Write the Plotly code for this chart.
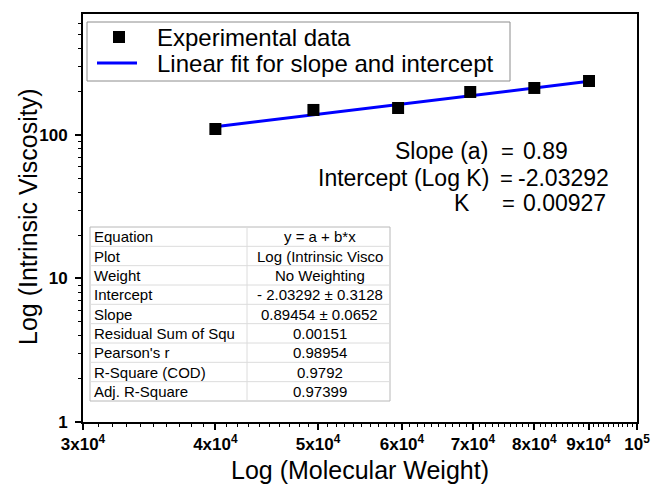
import plotly.graph_objects as go

# ---------------- data ----------------
mol_weight = [40000, 49500, 59500, 69600, 80000, 90100]
intrinsic_visc = [110.1, 149.4, 154.2, 199.4, 212.6, 237.8]

fit_x = [39800, 90100]
fit_y = [113.7, 236.6]

x_tickvals = [30000, 40000, 50000, 60000, 70000, 80000, 90000, 100000]
x_ticktext = ["3x10<sup>4</sup>", "4x10<sup>4</sup>", "5x10<sup>4</sup>", "6x10<sup>4</sup>",
              "7x10<sup>4</sup>", "8x10<sup>4</sup>", "9x10<sup>4</sup>", "10<sup>5</sup>"]
x_minor = [v for v in range(31000, 100000, 1000) if v % 10000 != 0]

y_tickvals = [1, 10, 100]
y_ticktext = ["1", "10", "100"]
y_minor = [2, 3, 4, 5, 6, 7, 8, 9, 20, 30, 40, 50, 60, 70, 80, 90, 200, 300, 400, 500, 600]

table_labels = ["Equation", "Plot", "Weight", "Intercept", "Slope", "Residual Sum of Squ",
                "Pearson's r", "R-Square (COD)", "Adj. R-Square"]
table_values = ["y = a + b*x", "Log (Intrinsic Visco", "No Weighting", "- 2.03292 ± 0.3128",
                "0.89454 ± 0.0652", "0.00151", "0.98954", "0.9792", "0.97399"]

fit_labels = ["Slope (a)", "Intercept (Log K)", "K"]
fit_results = ["0.89", "-2.03292", "0.00927"]

legend_names = ["Experimental data", "Linear fit for slope and intercept"]

x_title = "Log (Molecular Weight)"
y_title = "Log (Intrinsic Viscosity)"

# ---------------- layout helpers ----------------
W, H = 651, 489
L, R, T, B = 83, 14, 14, 67
PW, PH = W - L - R, H - T - B
FONT = "Liberation Sans, Arial, sans-serif"


def px(x):
    return (x - L) / PW


def py(y):
    return (H - B - y) / PH


fig = go.Figure()

fig.add_trace(go.Scatter(
    x=fit_x, y=fit_y, mode="lines",
    line=dict(color="#0000ff", width=3),
    name=legend_names[1], showlegend=False))

fig.add_trace(go.Scatter(
    x=mol_weight, y=intrinsic_visc, mode="markers",
    marker=dict(symbol="square", size=12, color="black"),
    name=legend_names[0], showlegend=False))

annotations = []
shapes = []

# ---------------- statistics table ----------------
tab_l, tab_r, tab_div = 90, 390, 247
tab_t, tab_b = 227, 401
n_rows = len(table_labels)
row_h = (tab_b - tab_t) / n_rows
shapes.append(dict(type="rect", xref="paper", yref="paper",
                   x0=px(tab_l), x1=px(tab_r), y0=py(tab_b), y1=py(tab_t),
                   line=dict(color="#b8b8b8", width=1), fillcolor="white", layer="above"))
for i in range(1, n_rows):
    yy = tab_t + i * row_h
    shapes.append(dict(type="line", xref="paper", yref="paper",
                       x0=px(tab_l), x1=px(tab_r), y0=py(yy), y1=py(yy),
                       line=dict(color="#dcdcdc", width=1), layer="above"))
shapes.append(dict(type="line", xref="paper", yref="paper",
                   x0=px(tab_div), x1=px(tab_div), y0=py(tab_b), y1=py(tab_t),
                   line=dict(color="#dcdcdc", width=1), layer="above"))
for i, (lab, val) in enumerate(zip(table_labels, table_values)):
    yc = tab_t + (i + 0.5) * row_h
    annotations.append(dict(xref="paper", yref="paper", x=px(tab_l + 2), y=py(yc),
                            text=lab, showarrow=False, xanchor="left", yanchor="middle",
                            font=dict(family=FONT, size=15, color="black")))
    annotations.append(dict(xref="paper", yref="paper", x=px((tab_div + tab_r) / 2 + 1), y=py(yc),
                            text=val, showarrow=False, xanchor="center", yanchor="middle",
                            font=dict(family=FONT, size=15, color="black")))

# ---------------- manual legend ----------------
shapes.append(dict(type="rect", xref="paper", yref="paper",
                   x0=px(87), x1=px(510), y0=py(81), y1=py(22),
                   line=dict(color="#8c8c8c", width=1), fillcolor="white", layer="above"))
shapes.append(dict(type="rect", xref="paper", yref="paper",
                   x0=px(113), x1=px(125), y0=py(43), y1=py(31),
                   line=dict(width=0), fillcolor="black", layer="above"))
shapes.append(dict(type="line", xref="paper", yref="paper",
                   x0=px(97), x1=px(137), y0=py(63), y1=py(63),
                   line=dict(color="#0000ff", width=3), layer="above"))
for name, yy in zip(legend_names, [37, 63]):
    annotations.append(dict(xref="paper", yref="paper", x=px(155), y=py(yy),
                            text=name, showarrow=False, xanchor="left", yanchor="middle",
                            font=dict(family=FONT, size=24, color="black")))

# ---------------- fit result text ----------------
label_right = [490, 491, 472]
eq_center = [507, 506, 508]
value_left = [521, 516, 521]
row_y = [151, 178, 203]
for lab, val, lx, ex, vx, yy in zip(fit_labels, fit_results, label_right, eq_center, value_left, row_y):
    annotations.append(dict(xref="paper", yref="paper", x=px(lx), y=py(yy), text=lab,
                            showarrow=False, xanchor="right", yanchor="middle",
                            font=dict(family=FONT, size=23, color="black")))
    annotations.append(dict(xref="paper", yref="paper", x=px(ex), y=py(yy), text="=",
                            showarrow=False, xanchor="center", yanchor="middle",
                            font=dict(family=FONT, size=22, color="black")))
    annotations.append(dict(xref="paper", yref="paper", x=px(vx), y=py(yy), text=val,
                            showarrow=False, xanchor="left", yanchor="middle",
                            font=dict(family=FONT, size=23, color="black")))

# y-axis title placed as rotated text
annotations.append(dict(xref="paper", yref="paper", x=px(28), y=py(217), text=y_title,
                        showarrow=False, textangle=-90, xanchor="center", yanchor="middle",
                        font=dict(family=FONT, size=25, color="black")))

fig.update_layout(
    width=W, height=H,
    margin=dict(l=L, r=R, t=T, b=B, pad=0, autoexpand=False),
    paper_bgcolor="white", plot_bgcolor="white",
    font=dict(family=FONT, color="black"),
    showlegend=False,
    annotations=annotations,
    shapes=shapes,
)

fig.update_xaxes(
    type="log", range=[4.47712, 5.0], automargin=False,
    tickmode="array", tickvals=x_tickvals,
    ticktext=["<b>" + t + "</b>" for t in x_ticktext],
    tickfont=dict(family=FONT, size=17, color="black"),
    ticks="outside", ticklen=6, tickwidth=1.5, tickcolor="black",
    minor=dict(tickmode="array", tickvals=x_minor, ticks="outside",
               ticklen=3, tickwidth=1, tickcolor="black"),
    showline=True, linecolor="black", linewidth=2, mirror=True,
    showgrid=False, zeroline=False,
    title=dict(text=x_title, font=dict(family=FONT, size=25, color="black"),
               standoff=8),
)

fig.update_yaxes(
    type="log", range=[0, 2.843], automargin=False,
    tickmode="array", tickvals=y_tickvals,
    ticktext=["<b>" + t + "</b>" for t in y_ticktext],
    tickfont=dict(family=FONT, size=17, color="black"),
    ticks="outside", ticklen=6, tickwidth=1.5, tickcolor="black",
    ticklabelstandoff=4,
    minor=dict(tickmode="array", tickvals=y_minor, ticks="outside",
               ticklen=3, tickwidth=1, tickcolor="black"),
    showline=True, linecolor="black", linewidth=2, mirror=True,
    showgrid=False, zeroline=False,
)

fig.write_html("out.html")
